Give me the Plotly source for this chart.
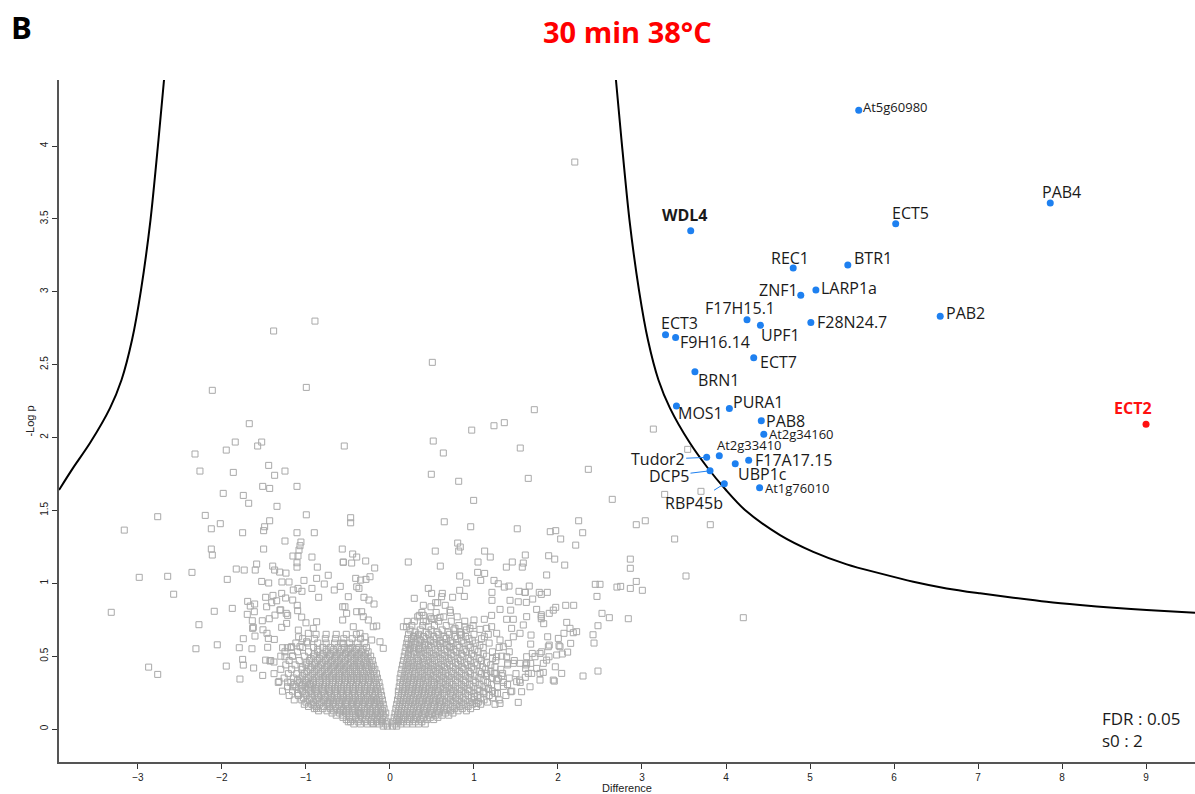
import plotly.graph_objects as go

# ---------------- data ----------------
# Significant (blue) proteins
sig_names = ["At5g60980", "PAB4", "ECT5", "WDL4", "REC1", "BTR1", "ZNF1", "LARP1a",
             "F17H15.1", "UPF1", "F28N24.7", "PAB2", "ECT3", "F9H16.14", "ECT7", "BRN1",
             "MOS1", "PURA1", "PAB8", "At2g34160", "At2g33410", "Tudor2", "F17A17.15",
             "UBP1c", "DCP5", "RBP45b", "At1g76010"]
sig_x = [5.58, 7.86, 6.02, 3.58, 4.80, 5.45, 4.89, 5.07,
         4.25, 4.41, 5.01, 6.55, 3.28, 3.40, 4.33, 3.63,
         3.41, 4.04, 4.42, 4.45, 3.92, 3.77, 4.27,
         4.11, 3.81, 3.98, 4.40]
sig_y = [4.245, 3.609, 3.467, 3.419, 3.163, 3.184, 2.976, 3.012,
         2.808, 2.770, 2.790, 2.832, 2.705, 2.687, 2.548, 2.451,
         2.216, 2.200, 2.115, 2.022, 1.875, 1.864, 1.844,
         1.820, 1.772, 1.683, 1.656]

# Bait (red)
bait_name = "ECT2"
bait_x = [9.00]
bait_y = [2.091]

# FDR threshold curve
curve_right_x = [2.690, 2.756, 2.851, 2.964, 3.071, 3.196, 3.333, 3.571, 3.774, 4.000, 4.226, 4.643,
                 5.039, 5.437, 5.833, 6.230, 6.627, 7.024, 7.420, 7.818, 8.214, 8.611, 9.008, 9.583]
curve_right_y = [4.453, 4.041, 3.492, 3.012, 2.669, 2.395, 2.202, 1.962, 1.798, 1.640, 1.503, 1.331,
                 1.216, 1.130, 1.068, 1.011, 0.965, 0.931, 0.901, 0.873, 0.851, 0.832, 0.816, 0.798]
curve_left_x = [-2.690, -2.756, -2.851, -2.964, -3.071, -3.196, -3.333, -3.571, -3.774, -3.940]
curve_left_y = [4.453, 4.041, 3.492, 3.012, 2.669, 2.395, 2.202, 1.962, 1.790, 1.640]

# Non-significant proteins: dense core, row by row (y level, x values)
left_core_y = [0.02, 0.035, 0.05, 0.065, 0.08, 0.095, 0.11, 0.125, 0.14, 0.155, 0.17, 0.185,
               0.20, 0.215, 0.23, 0.245, 0.26, 0.275, 0.29, 0.305, 0.32, 0.335, 0.35, 0.365,
               0.38, 0.395, 0.41, 0.425, 0.44, 0.455, 0.47, 0.485, 0.50, 0.515, 0.53, 0.545,
               0.56, 0.59, 0.62, 0.65]
left_core_x = [
    [-0.03, -0.08],
    [-0.05, -0.13, -0.20, -0.27, -0.35, -0.43],
    [-0.04, -0.10, -0.16, -0.22, -0.30, -0.38, -0.47],
    [-0.09, -0.15, -0.22, -0.29, -0.37, -0.45, -0.52],
    [-0.06, -0.12, -0.19, -0.25, -0.33, -0.41, -0.48, -0.56],
    [-0.08, -0.15, -0.21, -0.28, -0.35, -0.41, -0.48, -0.56, -0.64],
    [-0.05, -0.11, -0.17, -0.24, -0.31, -0.37, -0.44, -0.52, -0.60, -0.69],
    [-0.09, -0.16, -0.23, -0.30, -0.38, -0.45, -0.52, -0.59, -0.67, -0.75, -0.85],
    [-0.07, -0.14, -0.21, -0.27, -0.34, -0.42, -0.49, -0.55, -0.63, -0.71, -0.80, -0.90],
    [-0.11, -0.17, -0.24, -0.30, -0.37, -0.44, -0.51, -0.58, -0.65, -0.72, -0.79, -0.88, -0.97],
    [-0.08, -0.13, -0.19, -0.26, -0.33, -0.40, -0.46, -0.53, -0.61, -0.68, -0.75, -0.84, -0.93, -1.02],
    [-0.12, -0.18, -0.24, -0.31, -0.38, -0.45, -0.52, -0.60, -0.67, -0.74, -0.82, -0.91, -1.00],
    [-0.09, -0.16, -0.22, -0.29, -0.36, -0.43, -0.50, -0.57, -0.64, -0.71, -0.79, -0.87, -0.96, -1.05, -1.14],
    [-0.13, -0.20, -0.27, -0.34, -0.41, -0.48, -0.55, -0.62, -0.69, -0.77, -0.85, -0.94, -1.03],
    [-0.10, -0.18, -0.25, -0.31, -0.38, -0.45, -0.52, -0.59, -0.66, -0.74, -0.82, -0.90, -0.99, -1.09, -1.20],
    [-0.14, -0.21, -0.28, -0.35, -0.42, -0.49, -0.56, -0.63, -0.70, -0.78, -0.86, -0.93, -1.01, -1.10],
    [-0.11, -0.17, -0.24, -0.30, -0.37, -0.44, -0.51, -0.58, -0.65, -0.72, -0.80, -0.88, -0.95, -1.04, -1.16, -1.28],
    [-0.15, -0.23, -0.30, -0.37, -0.44, -0.51, -0.58, -0.66, -0.73, -0.81, -0.89, -0.97, -1.06],
    [-0.12, -0.20, -0.27, -0.34, -0.41, -0.48, -0.55, -0.62, -0.69, -0.77, -0.85, -0.93, -1.01, -1.12, -1.22],
    [-0.16, -0.23, -0.30, -0.37, -0.44, -0.51, -0.58, -0.65, -0.72, -0.80, -0.88, -0.96, -1.04, -1.14],
    [-0.13, -0.19, -0.26, -0.33, -0.40, -0.47, -0.54, -0.61, -0.68, -0.76, -0.84, -0.91, -1.00, -1.08, -1.18, -1.33],
    [-0.17, -0.25, -0.32, -0.39, -0.46, -0.53, -0.60, -0.68, -0.76, -0.84, -0.92, -1.01, -1.10],
    [-0.15, -0.22, -0.29, -0.36, -0.43, -0.50, -0.57, -0.64, -0.72, -0.80, -0.88, -0.97, -1.06, -1.15, -1.26],
    [-0.19, -0.26, -0.33, -0.40, -0.47, -0.54, -0.61, -0.69, -0.77, -0.85, -0.94, -1.04],
    [-0.16, -0.23, -0.31, -0.38, -0.45, -0.52, -0.60, -0.67, -0.75, -0.83, -0.92, -1.02, -1.11, -1.21, -1.38],
    [-0.20, -0.28, -0.35, -0.42, -0.49, -0.57, -0.65, -0.73, -0.81, -0.90, -0.99],
    [-0.18, -0.25, -0.33, -0.40, -0.47, -0.55, -0.62, -0.70, -0.78, -0.87, -0.95, -1.05, -1.17, -1.30],
    [-0.22, -0.29, -0.37, -0.44, -0.52, -0.60, -0.68, -0.76, -0.85, -0.94, -1.04],
    [-0.20, -0.27, -0.35, -0.42, -0.50, -0.58, -0.66, -0.74, -0.82, -0.90, -1.00, -1.13, -1.24],
    [-0.24, -0.31, -0.39, -0.47, -0.55, -0.63, -0.71, -0.80, -0.89, -0.99],
    [-0.21, -0.29, -0.37, -0.44, -0.53, -0.61, -0.69, -0.77, -0.86, -0.96, -1.08, -1.20, -1.42],
    [-0.26, -0.34, -0.42, -0.50, -0.58, -0.66, -0.75, -0.84, -0.94],
    [-0.23, -0.31, -0.39, -0.47, -0.56, -0.64, -0.72, -0.81, -0.91, -1.02, -1.16, -1.30],
    [-0.29, -0.37, -0.45, -0.53, -0.62, -0.71, -0.80, -0.90],
    [-0.26, -0.34, -0.42, -0.50, -0.59, -0.67, -0.76, -0.86, -0.97, -1.10, -1.25],
    [-0.32, -0.40, -0.49, -0.58, -0.67, -0.76, -0.86],
    [-0.28, -0.37, -0.45, -0.54, -0.62, -0.71, -0.80, -0.91, -1.04, -1.18],
    [-0.30, -0.39, -0.48, -0.57, -0.66, -0.76, -0.86, -0.98, -1.12],
    [-0.35, -0.45, -0.55, -0.65, -0.77, -0.90, -1.04],
    [-0.40, -0.52, -0.64, -0.76, -0.88],
]
right_core_y = [0.02, 0.035, 0.05, 0.065, 0.08, 0.095, 0.11, 0.125, 0.14, 0.155, 0.17, 0.185,
                0.20, 0.215, 0.23, 0.245, 0.26, 0.275, 0.29, 0.305, 0.32, 0.335, 0.35, 0.365,
                0.38, 0.395, 0.41, 0.425, 0.44, 0.455, 0.47, 0.485, 0.50, 0.515, 0.53, 0.545,
                0.56, 0.575, 0.59, 0.605, 0.62, 0.635, 0.65, 0.665, 0.68, 0.71, 0.74, 0.77, 0.80]
right_core_x = [
    [0.03, 0.08],
    [0.06, 0.13, 0.20, 0.27, 0.34, 0.42],
    [0.04, 0.10, 0.16, 0.23, 0.30, 0.38],
    [0.08, 0.14, 0.21, 0.28, 0.36, 0.44, 0.52],
    [0.05, 0.11, 0.18, 0.25, 0.32, 0.40, 0.48, 0.57],
    [0.09, 0.16, 0.23, 0.30, 0.38, 0.46, 0.54, 0.62, 0.70],
    [0.06, 0.13, 0.20, 0.27, 0.34, 0.42, 0.50, 0.58, 0.66, 0.75],
    [0.10, 0.17, 0.24, 0.32, 0.40, 0.48, 0.56, 0.64, 0.72, 0.81, 0.91],
    [0.07, 0.14, 0.21, 0.28, 0.36, 0.44, 0.52, 0.60, 0.68, 0.77, 0.86, 0.96],
    [0.11, 0.18, 0.25, 0.33, 0.41, 0.49, 0.57, 0.65, 0.74, 0.83, 0.93, 1.03],
    [0.08, 0.15, 0.22, 0.30, 0.38, 0.45, 0.53, 0.61, 0.70, 0.79, 0.88, 0.98, 1.08, 1.25],
    [0.12, 0.19, 0.27, 0.35, 0.43, 0.51, 0.59, 0.67, 0.76, 0.85, 0.95, 1.05, 1.16],
    [0.09, 0.16, 0.24, 0.31, 0.39, 0.47, 0.55, 0.63, 0.72, 0.81, 0.90, 1.00, 1.12, 1.30],
    [0.13, 0.20, 0.28, 0.36, 0.44, 0.52, 0.60, 0.69, 0.78, 0.87, 0.97, 1.08, 1.22],
    [0.10, 0.17, 0.25, 0.33, 0.41, 0.49, 0.57, 0.65, 0.74, 0.83, 0.93, 1.04, 1.18, 1.38],
    [0.14, 0.22, 0.30, 0.38, 0.46, 0.54, 0.63, 0.72, 0.81, 0.90, 1.00, 1.12, 1.28],
    [0.10, 0.18, 0.26, 0.34, 0.42, 0.50, 0.58, 0.67, 0.76, 0.85, 0.95, 1.07, 1.22, 1.45],
    [0.15, 0.23, 0.31, 0.39, 0.47, 0.56, 0.64, 0.73, 0.83, 0.93, 1.04, 1.17],
    [0.11, 0.19, 0.27, 0.35, 0.43, 0.52, 0.60, 0.69, 0.78, 0.88, 0.99, 1.12, 1.28],
    [0.15, 0.24, 0.32, 0.40, 0.49, 0.57, 0.66, 0.75, 0.85, 0.95, 1.07, 1.21, 1.40],
    [0.12, 0.20, 0.28, 0.36, 0.45, 0.53, 0.62, 0.71, 0.80, 0.90, 1.02, 1.16, 1.35, 1.55],
    [0.16, 0.25, 0.33, 0.42, 0.50, 0.59, 0.68, 0.78, 0.88, 0.99, 1.11, 1.27],
    [0.12, 0.21, 0.29, 0.38, 0.46, 0.55, 0.64, 0.73, 0.83, 0.94, 1.06, 1.21, 1.42],
    [0.17, 0.25, 0.34, 0.43, 0.52, 0.61, 0.70, 0.80, 0.90, 1.01, 1.15, 1.33],
    [0.13, 0.22, 0.30, 0.39, 0.48, 0.57, 0.66, 0.75, 0.85, 0.96, 1.09, 1.26, 1.50],
    [0.18, 0.27, 0.36, 0.45, 0.54, 0.63, 0.73, 0.83, 0.94, 1.06, 1.20],
    [0.14, 0.23, 0.32, 0.41, 0.50, 0.59, 0.68, 0.78, 0.88, 1.00, 1.14, 1.32],
    [0.19, 0.28, 0.37, 0.46, 0.56, 0.65, 0.75, 0.86, 0.97, 1.10, 1.25],
    [0.15, 0.24, 0.33, 0.42, 0.51, 0.61, 0.71, 0.81, 0.92, 1.04, 1.20, 1.40, 1.62],
    [0.20, 0.29, 0.39, 0.48, 0.58, 0.68, 0.78, 0.89, 1.01, 1.15],
    [0.16, 0.25, 0.34, 0.44, 0.53, 0.63, 0.73, 0.84, 0.96, 1.09, 1.26, 1.48],
    [0.21, 0.31, 0.40, 0.50, 0.60, 0.70, 0.81, 0.93, 1.06, 1.22],
    [0.17, 0.26, 0.36, 0.45, 0.55, 0.65, 0.76, 0.87, 1.00, 1.15, 1.33],
    [0.22, 0.32, 0.42, 0.52, 0.62, 0.73, 0.85, 0.97, 1.11],
    [0.18, 0.28, 0.37, 0.47, 0.57, 0.68, 0.79, 0.91, 1.05, 1.22, 1.42],
    [0.23, 0.34, 0.44, 0.54, 0.65, 0.76, 0.88, 1.01],
    [0.19, 0.29, 0.39, 0.49, 0.60, 0.71, 0.83, 0.96, 1.11, 1.30],
    [0.25, 0.35, 0.46, 0.57, 0.68, 0.80, 0.93, 1.07],
    [0.20, 0.30, 0.41, 0.52, 0.63, 0.75, 0.88, 1.02, 1.18],
    [0.26, 0.37, 0.48, 0.60, 0.72, 0.85, 0.98],
    [0.21, 0.32, 0.43, 0.55, 0.67, 0.80, 0.94, 1.09],
    [0.28, 0.40, 0.52, 0.64, 0.77, 0.90],
    [0.22, 0.34, 0.46, 0.58, 0.71, 0.85, 1.00, 1.17],
    [0.30, 0.43, 0.56, 0.69, 0.83],
    [0.24, 0.36, 0.49, 0.62, 0.76, 0.91],
    [0.26, 0.39, 0.53, 0.67, 0.82, 0.99],
    [0.29, 0.43, 0.58, 0.73, 0.89],
    [0.33, 0.48, 0.64, 0.80],
    [0.38, 0.55, 0.72],
]

# Non-significant proteins: scattered points (x, y)
bg_left_points = [
    (-2.115, 2.324), (-0.996, 2.344), (-1.675, 2.095), (-1.842, 1.969), (-1.527, 1.969), (-1.575, 1.942),
    (-1.949, 1.914), (-2.321, 1.887), (-0.544, 1.942), (-1.444, 1.809), (-1.250, 1.770), (-2.262, 1.770),
    (-1.865, 1.761), (-1.373, 1.741), (-1.515, 1.665), (-1.432, 1.651), (-1.107, 1.665), (-1.985, 1.617),
    (-1.746, 1.603), (-1.682, 1.549), (-1.345, 1.528), (-2.765, 1.457), (-2.199, 1.466), (-0.996, 1.470),
    (-3.163, 1.365), (-2.020, 1.409), (-2.127, 1.374), (-1.432, 1.429), (-1.492, 1.388), (-1.504, 1.361),
    (-1.754, 1.347), (-1.107, 1.347), (-0.901, 1.347), (-1.250, 1.290), (-1.060, 1.283), (-1.071, 1.258),
    (-2.127, 1.235), (-2.115, 1.194), (-1.504, 1.235), (-1.083, 1.228), (-0.568, 1.235), (-1.155, 1.187),
    (-1.095, 1.187), (-0.929, 1.180), (-1.587, 1.132), (-1.396, 1.118), (-1.107, 1.141), (-1.107, 1.111),
    (-0.556, 1.146), (-1.830, 1.098), (-1.735, 1.091), (-1.604, 1.091), (-1.373, 1.091), (-1.313, 1.077),
    (-1.238, 1.070), (-0.865, 1.111), (-2.985, 1.041), (-2.646, 1.048), (-2.357, 1.075), (-1.937, 1.027),
    (-0.735, 1.055), (-0.873, 1.034), (-1.527, 1.013), (-1.444, 1.002), (-1.286, 1.009), (-1.202, 1.009),
    (-1.024, 1.020), (-0.782, 0.995), (-0.592, 0.979), (-0.663, 0.954), (-0.929, 0.965), (-1.151, 0.954),
    (-1.095, 0.965), (-1.048, 0.945), (-2.575, 0.925), (-1.289, 0.931), (-1.393, 0.917), (-1.480, 0.904),
    (-1.242, 0.899), (-1.158, 0.885), (-0.849, 0.904), (-1.694, 0.876), (-1.611, 0.858), (-1.663, 0.844),
    (-1.699, 0.787), (-3.318, 0.801), (-2.092, 0.808), (-1.877, 0.828), (-1.468, 0.839), (-1.408, 0.867),
    (-1.349, 0.880), (-1.301, 0.818), (-1.235, 0.794), (-1.104, 0.849), (-1.099, 0.812), (-2.274, 0.716),
    (-1.639, 0.743), (-1.627, 0.698), (-2.310, 0.551), (-2.056, 0.578), (-1.794, 0.558), (-1.746, 0.620),
    (-1.643, 0.551), (-1.949, 0.432), (-1.746, 0.439), (-1.754, 0.478), (-1.623, 0.419), (-1.786, 0.343),
    (-1.515, 0.368), (-2.873, 0.425), (-2.765, 0.375), (-1.321, 0.327), (-1.218, 0.322), (-1.158, 0.290),
    (-1.051, 0.295), (-0.948, 0.309), (-0.913, 0.165), (-0.873, 0.142), (-0.726, 0.178), (-0.496, 0.050),
    (-1.615, 0.805), (-1.520, 0.743), (-1.635, 0.691), (-1.607, 0.638), (-1.512, 0.681), (-1.464, 0.657),
    (-1.448, 0.622), (-1.377, 0.615), (-1.456, 0.561), (-1.480, 0.473), (-1.429, 0.467), (-1.381, 0.460),
    (-1.278, 0.558), (-1.222, 0.558), (-1.171, 0.565), (-1.250, 0.496), (-1.158, 0.501), (-1.071, 0.565),
    (-0.992, 0.599), (-1.087, 0.633), (-1.091, 0.679), (-1.000, 0.729), (-0.972, 0.657), (-0.913, 0.691),
    (-0.873, 0.736), (-1.051, 0.768), (-1.230, 0.725), (-1.289, 0.698), (-1.369, 0.782), (-1.437, 0.757),
    (-1.310, 0.816), (-1.218, 0.780), (-0.893, 2.799), (-1.385, 2.731),
    (-0.468, 1.450), (-0.468, 1.415), (-0.444, 1.201), (-0.396, 1.180), (-0.556, 1.144), (-0.456, 1.139),
    (-0.289, 1.153), (-0.182, 1.105), (-0.408, 1.034), (-0.349, 1.022), (-0.286, 1.027), (-0.238, 1.045),
    (-0.396, 0.976), (-0.369, 0.965), (-0.496, 0.908), (-0.310, 0.904), (-0.250, 0.885), (-0.190, 0.858),
    (-0.563, 0.839), (-0.536, 0.839), (-0.516, 0.794), (-0.396, 0.805), (-0.337, 0.805), (-0.318, 0.771),
    (-0.258, 0.748), (-0.199, 0.702), (-0.158, 0.707), (-0.563, 0.748), (-0.437, 0.702), (-0.357, 0.657),
    (-0.298, 0.633), (-0.218, 0.611), (-0.119, 0.599), (-0.080, 0.554), (-0.556, 0.588), (-0.476, 0.554),
    (-0.556, 0.130), (-0.357, 0.108), (-0.200, 0.040),
]
bg_right_points = [
    (2.200, 3.890), (0.504, 2.516), (1.718, 2.191), (1.238, 2.081), (1.361, 2.102), (0.973, 2.051),
    (0.515, 1.976), (0.635, 1.894), (1.551, 1.928), (2.361, 1.782), (0.492, 1.748), (0.818, 1.700),
    (1.646, 1.720), (0.996, 1.569), (0.646, 1.422), (0.961, 1.388), (1.515, 1.374), (2.246, 1.429),
    (1.908, 1.354), (1.973, 1.361), (2.294, 1.347), (2.032, 1.304), (2.211, 1.262), (0.806, 1.276),
    (0.837, 1.249), (0.818, 1.221), (0.539, 1.221), (1.127, 1.221), (1.194, 1.180), (0.218, 1.146),
    (0.599, 1.118), (1.048, 1.146), (1.611, 1.194), (1.385, 1.111), (1.456, 1.146), (1.587, 1.139),
    (1.575, 1.111), (1.889, 1.189), (1.961, 1.166), (2.080, 1.125), (0.830, 1.050), (1.044, 1.075),
    (1.127, 1.068), (1.865, 1.057), (0.913, 1.002), (1.080, 1.020), (1.238, 1.020), (1.289, 0.997),
    (1.361, 0.974), (1.417, 0.981), (1.658, 0.981), (1.536, 0.945), (1.611, 0.938), (1.777, 0.938),
    (1.801, 0.924), (1.873, 0.938), (0.456, 0.965), (0.496, 0.931), (0.623, 0.931), (0.746, 0.904),
    (0.830, 0.952), (0.885, 0.910), (0.289, 0.897), (1.214, 0.938), (1.214, 0.883), (1.429, 0.883),
    (1.623, 0.869), (1.746, 0.821), (1.801, 0.784), (1.801, 0.757), (1.896, 0.794), (1.973, 0.835),
    (2.092, 0.849), (2.187, 0.849), (1.830, 0.723), (2.104, 0.732), (1.877, 0.633), (2.012, 0.572),
    (2.051, 0.515), (2.115, 0.528), (2.151, 0.588), (2.182, 0.661), (2.222, 0.668), (1.893, 0.496),
    (1.968, 0.427), (2.044, 0.382), (1.956, 0.329), (2.298, 0.364), (1.825, 0.389), (1.646, 0.382),
    (1.611, 0.355), (1.544, 0.336), (1.310, 0.176), (1.527, 0.183), (1.349, 0.293), (1.437, 0.256),
    (1.310, 0.821), (1.210, 0.780), (1.123, 0.753), (1.210, 0.702), (1.270, 0.657), (1.310, 0.611),
    (1.408, 0.588), (1.468, 0.633), (1.548, 0.657), (1.587, 0.714), (1.627, 0.771), (1.448, 0.691),
    (1.389, 0.753), (1.468, 0.753), (1.437, 0.816), (1.527, 0.873), (1.607, 0.938), (1.699, 0.892),
    (1.801, 0.771), (1.679, 0.645), (1.675, 0.583), (1.694, 0.519), (1.675, 0.451), (1.615, 0.416),
    (1.548, 0.451), (1.468, 0.451), (1.401, 0.451), (1.341, 0.382), (1.290, 0.348), (1.250, 0.245),
    (1.171, 0.279), (1.111, 0.256), (1.032, 0.176), (1.004, 0.222), (1.151, 0.382), (1.242, 0.382),
    (1.389, 0.496), (1.270, 0.496), (1.349, 0.565),
    (0.397, 0.849), (0.488, 0.839), (0.544, 0.867), (0.568, 0.867), (0.615, 0.908), (0.658, 0.849),
    (0.714, 0.816), (0.349, 0.780), (0.397, 0.780), (0.496, 0.757), (0.524, 0.757), (0.595, 0.766),
    (0.397, 0.736), (0.456, 0.702), (0.206, 0.739), (0.159, 0.702), (0.198, 0.702), (0.258, 0.622),
    (0.298, 0.638), (0.357, 0.611), (0.218, 0.581), (0.242, 0.554), (0.345, 0.554), (0.417, 0.576),
    (0.484, 0.611), (0.595, 0.588), (0.667, 0.622), (0.726, 0.565), (0.774, 0.691), (0.841, 0.645),
    (0.893, 0.702), (0.952, 0.691), (1.000, 0.748), (1.071, 0.684), (1.151, 0.691), (1.123, 0.633),
    (1.944, 0.816), (2.024, 0.565), (1.944, 0.336), (1.786, 0.382), (1.865, 0.473), (1.786, 0.519),
    (1.627, 0.496), (1.687, 0.382), (1.885, 0.565), (1.984, 0.508), (1.825, 0.451), (1.746, 0.416),
    (1.786, 0.336), (1.667, 0.290), (1.567, 0.256), (1.508, 0.325), (1.627, 0.451), (1.726, 0.496),
    (1.806, 0.530), (1.896, 0.576), (2.004, 0.622), (2.071, 0.657), (2.143, 0.691),
    (3.135, 2.058), (3.544, 1.919), (2.646, 1.576), (3.270, 1.610), (3.702, 1.631), (3.039, 1.429),
    (2.932, 1.402), (3.813, 1.402), (3.389, 1.304), (2.861, 1.166), (2.861, 1.103), (3.524, 1.050),
    (2.444, 0.993), (2.500, 0.993), (2.702, 0.974), (2.746, 0.979), (2.932, 1.013), (2.861, 0.965),
    (3.004, 0.952), (2.464, 0.910), (2.524, 0.794), (2.611, 0.764), (2.837, 0.757), (4.206, 0.764),
    (2.476, 0.709), (2.417, 0.647), (2.429, 0.590), (2.476, 0.398),
]

# ---------------- build traces ----------------
bg_x, bg_y = [], []
for yv, xs in zip(left_core_y, left_core_x):
    bg_x.extend(xs)
    bg_y.extend([yv] * len(xs))
for yv, xs in zip(right_core_y, right_core_x):
    bg_x.extend(xs)
    bg_y.extend([yv] * len(xs))
for px_, py_ in bg_left_points + bg_right_points:
    bg_x.append(px_)
    bg_y.append(py_)

GRAY = "#A9A9A9"
BLUE = "#1E80F0"
RED = "#FF1010"
LABEL_FONT = "Open Sans"
AXIS_FONT = "Liberation Sans, Arial"

fig = go.Figure()
fig.add_trace(go.Scatter(
    x=bg_x, y=bg_y, mode="markers",
    marker=dict(symbol="square-open", size=6, color=GRAY, line=dict(width=1, color=GRAY)),
    hoverinfo="skip", showlegend=False))
for cx, cy in ((curve_right_x, curve_right_y), (curve_left_x, curve_left_y)):
    fig.add_trace(go.Scatter(
        x=cx, y=cy, mode="lines",
        line=dict(color="black", width=2, shape="spline", smoothing=0.8),
        hoverinfo="skip", showlegend=False))
fig.add_trace(go.Scatter(
    x=sig_x, y=sig_y, mode="markers", text=sig_names,
    marker=dict(symbol="circle", size=7, color=BLUE), showlegend=False))
fig.add_trace(go.Scatter(
    x=bait_x, y=bait_y, mode="markers", text=[bait_name],
    marker=dict(symbol="circle", size=7, color=RED), showlegend=False))

# label placement styles: name -> (xanchor, xshift, yshift, size, bold)
label_style = {
    "At5g60980": ("left", 2, 3, 13, False),
    "PAB4": ("left", -10, 11, 16, False),
    "ECT5": ("left", -6, 11, 16, False),
    "WDL4": ("center", -6, 16, 16, True),
    "REC1": ("center", -3, 10, 16, False),
    "BTR1": ("left", 4, 7, 16, False),
    "ZNF1": ("right", -1, 5, 16, False),
    "LARP1a": ("left", 3, 2, 16, False),
    "F17H15.1": ("center", -7, 12, 16, False),
    "UPF1": ("left", -1, -10, 16, False),
    "F28N24.7": ("left", 4, 0, 16, False),
    "PAB2": ("left", 4, 3, 16, False),
    "ECT3": ("left", -7, 12, 16, False),
    "F9H16.14": ("left", 2, -5, 16, False),
    "ECT7": ("left", 4, -4, 16, False),
    "BRN1": ("left", 1, -8, 16, False),
    "MOS1": ("left", 0, -7, 16, False),
    "PURA1": ("left", 2, 6, 16, False),
    "PAB8": ("left", 3, 0, 16, False),
    "At2g34160": ("left", 3, 0, 13, False),
    "At2g33410": ("left", -4, 11, 13, False),
    "F17A17.15": ("left", 4, 0, 16, False),
    "UBP1c": ("left", 1, -10, 16, False),
    "At1g76010": ("left", 3, 0, 13, False),
}
# labels with a connector line: name -> (ax, ay) pixel offsets
connector_style = {
    "Tudor2": (-49, 2),
    "DCP5": (-41, 5),
    "RBP45b": (-30, 19),
}

annotations = []
for name, xv, yv in zip(sig_names, sig_x, sig_y):
    if name in label_style:
        xa, xs, ys, sz, bold = label_style[name]
        annotations.append(dict(
            x=xv, y=yv, xref="x", yref="y", text=f"<b>{name}</b>" if bold else name,
            showarrow=False, xanchor=xa, yanchor="middle", xshift=xs, yshift=ys,
            font=dict(family=LABEL_FONT, size=sz, color="#1a1a1a")))
    elif name in connector_style:
        ax, ay = connector_style[name]
        annotations.append(dict(
            x=xv, y=yv, xref="x", yref="y", text=name, showarrow=True,
            arrowhead=0, arrowwidth=1, arrowcolor=BLUE, ax=ax, ay=ay, standoff=2,
            font=dict(family=LABEL_FONT, size=16, color="#1a1a1a")))
annotations.append(dict(
    x=bait_x[0], y=bait_y[0], xref="x", yref="y", text=f"<b>{bait_name}</b>",
    showarrow=False, xanchor="center", yanchor="middle", xshift=-13, yshift=16,
    font=dict(family=LABEL_FONT, size=16, color=RED)))
annotations.append(dict(
    x=0.9164, y=0.048, xref="paper", yref="paper", text="FDR : 0.05<br>s0 : 2",
    showarrow=False, xanchor="left", yanchor="middle", align="left",
    font=dict(family=LABEL_FONT, size=17, color="#1a1a1a")))
annotations.append(dict(
    x=-0.033, y=1.077, xref="paper", yref="paper", text="<b>B</b>",
    showarrow=False, xanchor="center", yanchor="middle",
    font=dict(family=LABEL_FONT, size=31, color="black")))

fig.update_layout(
    width=1195, height=794,
    margin=dict(l=59, r=0, t=80, b=32),
    paper_bgcolor="white", plot_bgcolor="white",
    title=dict(text="<b>30 min 38°C</b>", x=0.525, xref="container", y=0.958,
               xanchor="center", yanchor="middle",
               font=dict(family=LABEL_FONT, size=29, color="#FF0000")),
    annotations=annotations,
    showlegend=False,
)
fig.update_xaxes(
    range=[-3.94, 9.583], showgrid=False, zeroline=False, automargin=False,
    showline=True, linecolor="#555555", linewidth=1.5,
    ticks="outside", ticklen=5, tickcolor="#333333", tickwidth=1,
    tickvals=[-3, -2, -1, 0, 1, 2, 3, 4, 5, 6, 7, 8, 9],
    tickfont=dict(family=AXIS_FONT, size=10, color="#222222"),
    title=dict(text="Difference", standoff=0,
               font=dict(family=AXIS_FONT, size=11, color="#222222")),
)
fig.update_yaxes(
    range=[-0.226, 4.453], showgrid=False, zeroline=False, automargin=False,
    showline=True, linecolor="#555555", linewidth=1.5,
    ticks="outside", ticklen=5, tickcolor="#333333", tickwidth=1,
    tickvals=[0, 0.5, 1, 1.5, 2, 2.5, 3, 3.5, 4], tickangle=-90,
    tickfont=dict(family=AXIS_FONT, size=10, color="#222222"),
    title=dict(text="-Log p", standoff=2,
               font=dict(family=AXIS_FONT, size=11, color="#222222")),
)

# remove the browser's default 8px page margin so the figure sits at the window origin
fig.write_html("out.html", config={"displayModeBar": False},
               post_script="document.body.style.margin='0';")
